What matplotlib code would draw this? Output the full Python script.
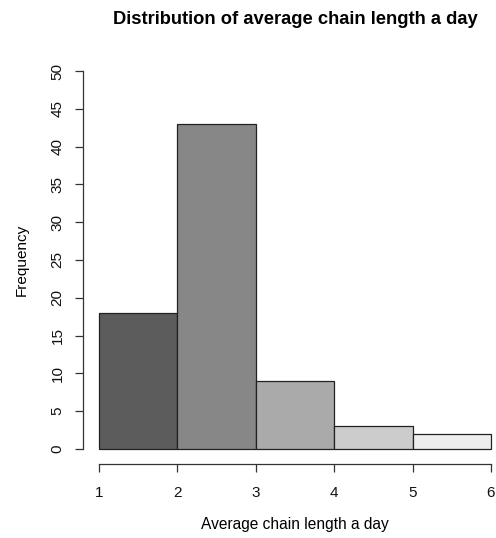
import matplotlib.pyplot as plt

plt.rcParams['font.family'] = ['Liberation Sans', 'DejaVu Sans']

# Histogram data
breaks = [1, 2, 3, 4, 5, 6]
counts = [18, 43, 9, 3, 2]
colors = ['#5c5c5c', '#878787', '#aaaaaa', '#cccccc', '#eeeeee']
yticks = [0, 5, 10, 15, 20, 25, 30, 35, 40, 45, 50]

W, H = 496, 538
fig = plt.figure(figsize=(W / 100, H / 100), dpi=100)

# plot region in pixels (R-style 4% extension around 1..6 and 0..50)
left_px, top_px, bottom_px = 83.3, 55.9, 464.1
ax = fig.add_axes([left_px / W, 1 - bottom_px / H, 1 - left_px / W, (bottom_px - top_px) / H])
px_per_unit = (491 - 99) / 5.0
ax.set_xlim(0.8, 0.8 + (W - left_px) / px_per_unit)
ax.set_ylim(-2, 52)

widths = [breaks[i + 1] - breaks[i] for i in range(len(counts))]
ax.bar(breaks[:-1], counts, width=widths, align='edge', color=colors,
       edgecolor='#222222', linewidth=0.9)

for s in ['top', 'right']:
    ax.spines[s].set_visible(False)
ax.spines['left'].set_bounds(0, 50)
ax.spines['bottom'].set_bounds(1, 6)
ax.spines['left'].set_color('#333333')
ax.spines['bottom'].set_color('#333333')
ax.spines['left'].set_linewidth(0.9)
ax.spines['bottom'].set_linewidth(0.9)

ax.set_xticks(breaks)
ax.set_yticks(yticks)
ax.tick_params(axis='both', direction='out', length=5.5, width=0.9, color='#333333',
               labelsize=11, labelcolor='#111111')
ax.tick_params(axis='x', pad=10)
ax.tick_params(axis='y', pad=8)
for lab in ax.get_yticklabels():
    lab.set_rotation(90)
    lab.set_va('center')

ax.set_ylabel('Frequency', fontsize=11, labelpad=16)
centre_x = (83.3 + 506.7) / 2 / W
fig.text(centre_x, 1 - 524 / H, 'Average chain length a day',
         ha='center', va='center', fontsize=11.2)
fig.text(centre_x, 1 - 20 / H, 'Distribution of average chain length a day',
         ha='center', va='center', fontsize=13.2, fontweight='bold')

fig.savefig('out.png', dpi=100)
